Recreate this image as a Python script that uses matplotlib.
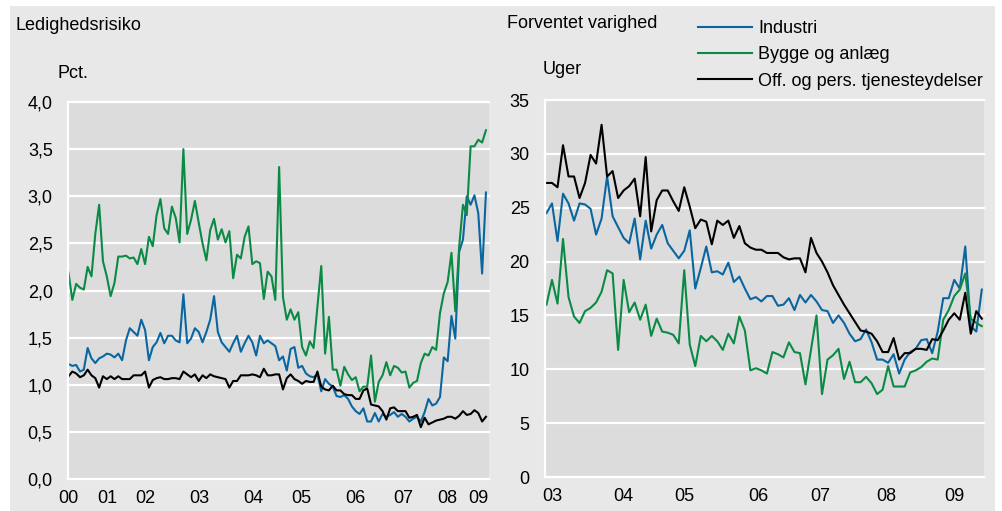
import matplotlib
matplotlib.use("Agg")
import matplotlib.pyplot as plt
from matplotlib.patches import Rectangle
from matplotlib.lines import Line2D
from matplotlib.ticker import FixedLocator, FuncFormatter
import matplotlib.font_manager as fm

# ---------------- data ----------------
# Left panel: Ledighedsrisiko (pct.), observations 2000-2009
left_industri = [
    1.22, 1.20, 1.21, 1.14, 1.16, 1.39, 1.28, 1.23, 1.28, 1.30,
    1.33, 1.32, 1.29, 1.33, 1.26, 1.47, 1.60, 1.56, 1.52, 1.69,
    1.58, 1.26, 1.40, 1.45, 1.55, 1.44, 1.52, 1.52, 1.47, 1.45,
    1.96, 1.44, 1.49, 1.60, 1.56, 1.45, 1.56, 1.69, 1.94, 1.56,
    1.45, 1.40, 1.35, 1.44, 1.52, 1.35, 1.44, 1.52, 1.45, 1.31,
    1.52, 1.44, 1.47, 1.44, 1.41, 1.26, 1.30, 1.15, 1.38, 1.40,
    1.18, 1.20, 1.12, 1.09, 1.08, 1.11, 0.93, 1.06, 1.01, 0.98,
    0.88, 0.87, 0.89, 0.85, 0.77, 0.72, 0.69, 0.75, 0.61, 0.61,
    0.70, 0.61, 0.69, 0.66, 0.68, 0.71, 0.66, 0.69, 0.66, 0.61,
    0.64, 0.66, 0.61, 0.71, 0.85, 0.78, 0.80, 0.87, 1.29, 1.25,
    1.73, 1.49, 2.41, 2.54, 3.00, 2.91, 3.01, 2.82, 2.18, 3.04,
]
left_bygge = [
    2.19, 1.90, 2.07, 2.03, 2.01, 2.25, 2.15, 2.60, 2.91, 2.31,
    2.15, 1.94, 2.08, 2.36, 2.36, 2.37, 2.34, 2.35, 2.28, 2.44,
    2.28, 2.57, 2.47, 2.80, 2.97, 2.66, 2.60, 2.89, 2.77, 2.51,
    3.50, 2.60, 2.75, 2.95, 2.72, 2.50, 2.32, 2.64, 2.76, 2.54,
    2.65, 2.51, 2.63, 2.13, 2.38, 2.34, 2.57, 2.68, 2.28, 2.31,
    2.29, 1.91, 2.20, 2.15, 1.90, 3.31, 1.93, 1.69, 1.80, 1.69,
    1.77, 1.40, 1.31, 1.46, 1.39, 1.83, 2.26, 1.33, 1.72, 1.16,
    1.16, 0.99, 1.19, 1.11, 1.05, 1.08, 0.93, 0.98, 0.98, 1.31,
    0.82, 1.03, 1.10, 1.24, 1.10, 1.20, 1.18, 1.13, 1.14, 0.97,
    1.02, 1.04, 1.23, 1.33, 1.31, 1.40, 1.37, 1.76, 1.97, 2.09,
    2.40, 1.78, 2.46, 2.91, 2.80, 3.53, 3.53, 3.60, 3.57, 3.70,
]
left_off = [
    1.09, 1.14, 1.12, 1.08, 1.10, 1.16, 1.10, 1.07, 0.97, 1.09,
    1.06, 1.09, 1.06, 1.09, 1.06, 1.06, 1.06, 1.10, 1.10, 1.10,
    1.14, 0.97, 1.05, 1.07, 1.08, 1.06, 1.06, 1.07, 1.07, 1.06,
    1.14, 1.11, 1.08, 1.11, 1.04, 1.10, 1.07, 1.11, 1.09, 1.08,
    1.07, 1.06, 0.97, 1.04, 1.04, 1.10, 1.10, 1.10, 1.11, 1.10,
    1.08, 1.17, 1.10, 1.10, 1.11, 1.11, 0.95, 1.07, 1.11, 1.06,
    1.04, 1.01, 1.04, 1.03, 1.03, 1.14, 0.98, 0.95, 0.94, 0.99,
    0.94, 0.94, 0.90, 0.89, 0.89, 0.85, 0.85, 0.94, 0.96, 0.79,
    0.78, 0.77, 0.72, 0.63, 0.75, 0.76, 0.72, 0.72, 0.72, 0.65,
    0.66, 0.68, 0.55, 0.65, 0.58, 0.60, 0.62, 0.63, 0.64, 0.66,
    0.66, 0.64, 0.67, 0.72, 0.68, 0.69, 0.73, 0.70, 0.61, 0.66,
]
left_tick_labels = ["00", "01", "02", "03", "04", "05", "06", "07", "08", "09"]
left_yticks = [0.0, 0.5, 1.0, 1.5, 2.0, 2.5, 3.0, 3.5, 4.0]

# Right panel: Forventet varighed (uger), monthly 2003-2009
right_industri = [
    24.5, 25.4, 21.9, 26.3, 25.4, 23.8, 25.4, 25.3, 24.9, 22.5,
    24.0, 27.9, 24.2, 23.2, 22.2, 21.7, 24.0, 20.2, 23.8, 21.2,
    22.5, 23.4, 21.7, 21.0, 20.3, 21.0, 22.9, 17.5, 19.4, 21.4,
    19.0, 19.1, 18.8, 19.9, 18.1, 18.6, 17.5, 16.5, 16.7, 16.3,
    16.8, 16.8, 15.9, 16.0, 16.6, 15.5, 16.9, 16.2, 16.9, 16.3,
    15.5, 15.4, 14.3, 15.0, 14.3, 13.3, 12.6, 12.8, 13.7, 12.5,
    10.9, 10.9, 10.6, 11.4, 9.6, 10.9, 11.6, 11.9, 12.7, 12.8,
    11.5, 13.5, 16.6, 16.6, 18.3, 17.5, 21.4, 14.0, 13.5, 17.4,
]
right_bygge = [
    16.0, 18.3, 16.1, 22.1, 16.7, 14.9, 14.3, 15.4, 15.7, 16.2,
    17.2, 19.2, 18.9, 11.8, 18.3, 15.3, 16.2, 14.6, 16.0, 13.1,
    14.7, 13.5, 13.4, 13.2, 12.4, 19.2, 12.3, 10.3, 13.1, 12.6,
    13.1, 12.6, 11.8, 13.3, 12.4, 14.9, 13.6, 9.9, 10.1, 9.9,
    9.6, 11.6, 11.4, 11.1, 12.5, 11.6, 11.5, 8.6, 11.8, 15.0,
    7.7, 10.9, 11.3, 11.9, 9.1, 10.7, 8.8, 8.8, 9.3, 8.7,
    7.7, 8.1, 10.3, 8.4, 8.4, 8.4, 9.7, 9.9, 10.2, 10.7,
    11.0, 10.9, 14.6, 15.5, 16.8, 17.4, 18.9, 14.7, 14.3, 14.0,
]
right_off = [
    27.3, 27.3, 26.9, 30.8, 27.9, 27.9, 25.9, 27.3, 29.9, 29.1,
    32.7, 27.9, 28.4, 25.9, 26.6, 27.0, 27.7, 24.2, 29.7, 22.8,
    25.7, 26.6, 26.6, 25.6, 24.7, 26.9, 25.1, 23.1, 23.9, 23.7,
    21.6, 23.8, 23.4, 23.8, 22.2, 23.3, 21.7, 21.3, 21.1, 21.1,
    20.8, 20.8, 20.8, 20.4, 20.2, 20.3, 20.3, 19.0, 22.2, 20.8,
    20.0, 19.0, 17.8, 16.9, 16.0, 15.2, 14.4, 13.6, 13.5, 13.3,
    12.6, 11.6, 11.6, 12.9, 10.9, 11.5, 11.5, 11.9, 11.9, 11.8,
    12.8, 12.7, 13.6, 14.6, 15.2, 14.6, 17.1, 13.3, 15.4, 14.7,
]
right_tick_labels = ["03", "04", "05", "06", "07", "08", "09"]
right_yticks = [0, 5, 10, 15, 20, 25, 30, 35]

series_names = ["Industri", "Bygge og anlæg", "Off. og pers. tjenesteydelser"]

# ---------------- layout / style ----------------
left_tick_pos = [0, 10.1, 20.0, 34.1, 48.2, 60.7, 74.8, 87.3, 98.8, 107.1]
right_tick_pos = [1.0, 13.9, 25.1, 38.4, 49.6, 61.6, 74.1]

names = {f.name for f in fm.fontManager.ttflist}
FONT = "Liberation Sans" if "Liberation Sans" in names else "DejaVu Sans"
plt.rcParams["font.family"] = [FONT, "DejaVu Sans"]
FS = 13

C_BLUE = "#0a66a0"
C_GREEN = "#0a8a45"
C_BLACK = "#000000"
OUTER = "#e8e8e8"
INNER = "#dcdcdc"

W, H = 1003, 511
fig = plt.figure(figsize=(W / 100, H / 100), dpi=100)
fig.patch.set_facecolor("white")
fig.patches.append(Rectangle((10 / W, 0), 985 / W, 505 / H, transform=fig.transFigure,
                             facecolor=OUTER, edgecolor="none", zorder=-10))


def px_axes(x0, y0, x1, y1):
    return fig.add_axes([x0 / W, 1 - y1 / H, (x1 - x0) / W, (y1 - y0) / H])


def style(ax, yticks, fmt, xpos, xlabels, ylim, xlim):
    ax.set_facecolor(INNER)
    ax.set_xlim(*xlim)
    ax.set_ylim(*ylim)
    ax.yaxis.set_major_locator(FixedLocator(yticks))
    ax.yaxis.set_major_formatter(FuncFormatter(fmt))
    ax.set_xticks(xpos)
    ax.set_xticklabels(xlabels)
    ax.grid(axis="y", color="white", linewidth=1.6)
    ax.set_axisbelow(True)
    for gl in ax.get_ygridlines():
        gl.set_clip_on(False)
    for s in ["top", "right", "bottom"]:
        ax.spines[s].set_visible(False)
    ax.spines["left"].set_color("white")
    ax.spines["left"].set_linewidth(1.6)
    ax.tick_params(axis="both", length=0, labelsize=FS, colors="black")
    ax.tick_params(axis="y", pad=11)
    ax.tick_params(axis="x", pad=8)


LW = 1.5
# Left panel
axL = px_axes(68, 102, 489, 479)
xl = list(range(len(left_industri)))
axL.plot(xl, left_industri, color=C_BLUE, lw=LW)
axL.plot(xl, left_bygge, color=C_GREEN, lw=LW)
axL.plot(xl, left_off, color=C_BLACK, lw=LW)
style(axL, left_yticks, lambda v, p: f"{v:.1f}".replace(".", ","),
      left_tick_pos, left_tick_labels, (0, 4), (-0.13, 109.8))

# Right panel
axR = px_axes(545, 100, 984, 477)
xr = list(range(len(right_industri)))
axR.plot(xr, right_industri, color=C_BLUE, lw=LW)
axR.plot(xr, right_bygge, color=C_GREEN, lw=LW)
axR.plot(xr, right_off, color=C_BLACK, lw=LW)
style(axR, right_yticks, lambda v, p: f"{v:.0f}",
      right_tick_pos, right_tick_labels, (0, 35), (-0.27, 79.4))

# Titles / units
fig.text(16 / W, 1 - 25 / H, "Ledighedsrisiko", fontsize=FS, va="center", ha="left")
fig.text(58 / W, 1 - 74 / H, "Pct.", fontsize=FS, va="center", ha="left")
fig.text(507 / W, 1 - 23 / H, "Forventet varighed", fontsize=FS, va="center", ha="left")
fig.text(543 / W, 1 - 70 / H, "Uger", fontsize=FS, va="center", ha="left")

handles = [Line2D([], [], color=c, lw=LW) for c in (C_BLUE, C_GREEN, C_BLACK)]
fig.legend(handles, series_names, loc="upper left",
           bbox_to_anchor=(698 / W, 1 - 20 / H), bbox_transform=fig.transFigure,
           frameon=False, fontsize=FS, handlelength=3.0, handletextpad=0.35,
           labelspacing=0.52, borderpad=0, borderaxespad=0)

fig.savefig("out.png", dpi=100, facecolor=fig.get_facecolor())
